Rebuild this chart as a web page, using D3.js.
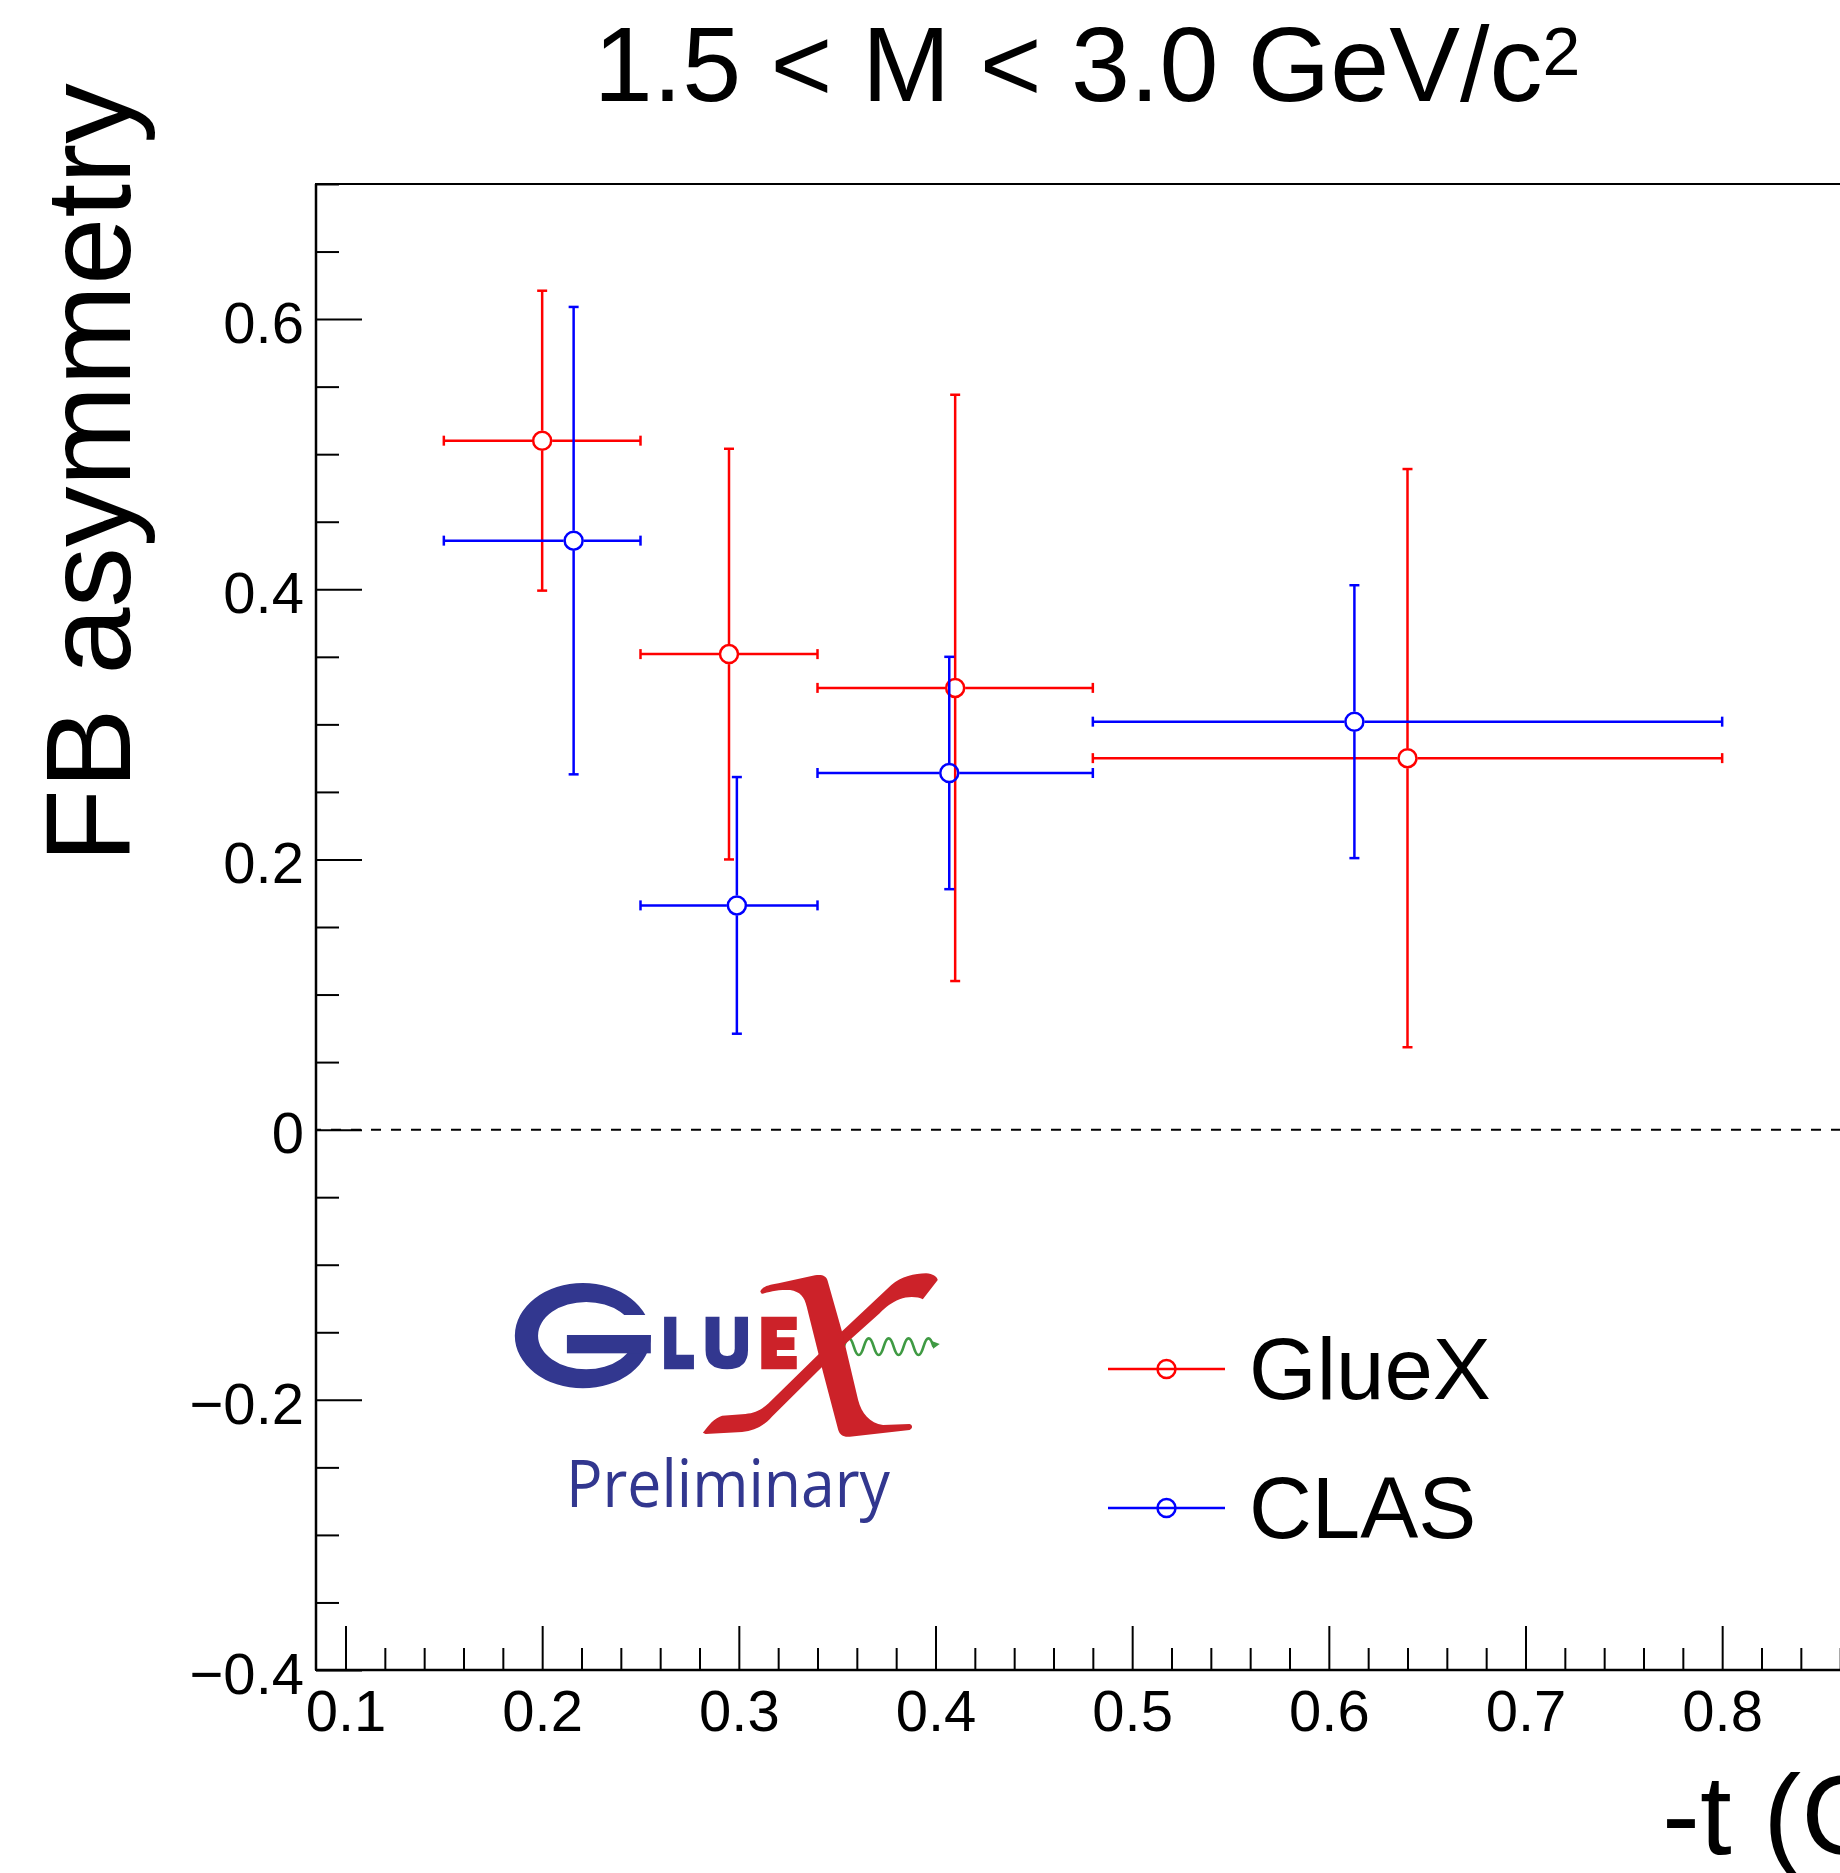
<!DOCTYPE html>
<html>
<head>
<meta charset="utf-8">
<script src="https://cdn.jsdelivr.net/npm/d3@7"></script>
<style>
  html, body { margin: 0; padding: 0; background: #fff; }
  svg { display: block; }
</style>
</head>
<body>
<svg id="chart"></svg>
<script>
// Forward-backward asymmetry vs -t, 1.5 < M < 3.0 GeV/c^2

// GlueX points: bin centre, bin edges, asymmetry, statistical error
const tGlueX    = [0.200, 0.295, 0.410, 0.640];
const tLoGlueX  = [0.15, 0.25, 0.34, 0.48];
const tHiGlueX  = [0.25, 0.34, 0.48, 0.80];
const fbGlueX   = [0.510, 0.352, 0.327, 0.275];
const errGlueX  = [0.111, 0.152, 0.217, 0.214];

// CLAS points
const tCLAS     = [0.216, 0.299, 0.407, 0.613];
const tLoCLAS   = [0.15, 0.25, 0.34, 0.48];
const tHiCLAS   = [0.25, 0.34, 0.48, 0.80];
const fbCLAS    = [0.436, 0.166, 0.264, 0.302];
const errCLAS   = [0.173, 0.095, 0.086, 0.101];

// Axis ticks
const xMajorTicks = [0.1, 0.2, 0.3, 0.4, 0.5, 0.6, 0.7, 0.8];
const yMajorTicks = [-0.4, -0.2, 0, 0.2, 0.4, 0.6];

const seriesNames = ["GlueX", "CLAS"];
const seriesColors = ["#ff0000", "#0000ff"];

const W = 1840, H = 1873;
const FONT = '"Liberation Sans", Arial, Helvetica, sans-serif';
const frame = { left: 316, top: 184, right: 1850, bottom: 1670 };

const svg = d3.select("#chart").attr("width", W).attr("height", H);
svg.append("rect").attr("width", W).attr("height", H).attr("fill", "#fff");

const x = d3.scaleLinear().domain([0.085, 0.865]).range([frame.left, frame.right]);
const y = d3.scaleLinear().domain([-0.4, 0.7]).range([frame.bottom, frame.top]);

// zero reference line
svg.append("line")
  .attr("x1", frame.left).attr("x2", frame.right)
  .attr("y1", y(0)).attr("y2", y(0))
  .attr("stroke", "#000").attr("stroke-width", 2)
  .attr("stroke-dasharray", "10,10").attr("stroke-dashoffset", 5);

// frame
svg.append("rect")
  .attr("x", frame.left).attr("y", frame.top)
  .attr("width", frame.right - frame.left).attr("height", frame.bottom - frame.top)
  .attr("fill", "none").attr("stroke", "#000").attr("stroke-width", 2);

// ---- axes ----
const xMinor = d3.range(0.1, 0.861, 0.02).filter(v => Math.abs(v * 10 - Math.round(v * 10)) > 1e-6);
const yMinor = d3.range(-0.4, 0.701, 0.05).filter(v => Math.abs(v * 5 - Math.round(v * 5)) > 1e-6);

function styleAxis(g) {
  g.select(".domain").remove();
  g.attr("font-family", FONT).attr("font-size", 58);
  g.selectAll("line").attr("stroke", "#000").attr("stroke-width", 2);
  g.selectAll("text").attr("fill", "#000");
}
const tickFmt = d => Math.abs(d) < 1e-9 ? "0" : d3.format(".1f")(d);

svg.append("g").attr("transform", `translate(0,${frame.bottom})`)
  .call(d3.axisBottom(x).tickValues(xMinor).tickSize(-22).tickFormat(""))
  .call(styleAxis);
svg.append("g").attr("transform", `translate(0,${frame.bottom})`)
  .call(d3.axisBottom(x).tickValues(xMajorTicks).tickSize(-44).tickPadding(20).tickFormat(tickFmt))
  .call(styleAxis);

svg.append("g").attr("transform", `translate(${frame.left},0)`)
  .call(d3.axisLeft(y).tickValues(yMinor).tickSize(-23).tickFormat(""))
  .call(styleAxis);
const yAx = svg.append("g").attr("transform", `translate(${frame.left},0)`)
  .call(d3.axisLeft(y).tickValues(yMajorTicks).tickSize(-46).tickPadding(12).tickFormat(tickFmt))
  .call(styleAxis);
yAx.selectAll("text").attr("dy", "0.40em");

// axis lines
svg.append("line").attr("x1", frame.left).attr("x2", frame.right)
  .attr("y1", frame.bottom).attr("y2", frame.bottom)
  .attr("stroke", "#000").attr("stroke-width", 2.5);
svg.append("line").attr("x1", frame.left).attr("x2", frame.left)
  .attr("y1", frame.top).attr("y2", frame.bottom)
  .attr("stroke", "#000").attr("stroke-width", 2.5);

// ---- data points with error bars ----
const R = 10, CAP = 5;
function drawSeries(t, lo, hi, v, e, color) {
  const pts = t.map((ti, i) => ({ t: ti, lo: lo[i], hi: hi[i], v: v[i], e: e[i] }));
  const g = svg.append("g").attr("stroke", color).attr("stroke-width", 2.5).attr("fill", "none");
  const segs = [];
  pts.forEach(p => {
    const cx = x(p.t), cy = y(p.v);
    const xl = x(p.lo), xh = x(p.hi), yt = y(p.v + p.e), yb = y(p.v - p.e);
    segs.push([xl, cy, cx - R, cy], [cx + R, cy, xh, cy]);
    segs.push([cx, yt, cx, cy - R], [cx, cy + R, cx, yb]);
    segs.push([xl, cy - CAP, xl, cy + CAP], [xh, cy - CAP, xh, cy + CAP]);
    segs.push([cx - CAP, yt, cx + CAP, yt], [cx - CAP, yb, cx + CAP, yb]);
  });
  g.selectAll("line").data(segs).join("line")
    .attr("x1", d => d[0]).attr("y1", d => d[1])
    .attr("x2", d => d[2]).attr("y2", d => d[3]);
  g.selectAll("circle").data(pts).join("circle")
    .attr("cx", d => x(d.t)).attr("cy", d => y(d.v)).attr("r", R - 1);
}
drawSeries(tGlueX, tLoGlueX, tHiGlueX, fbGlueX, errGlueX, seriesColors[0]);
drawSeries(tCLAS, tLoCLAS, tHiCLAS, fbCLAS, errCLAS, seriesColors[1]);

// ---- titles ----
const title = svg.append("text")
  .attr("x", 1087).attr("y", 101).attr("text-anchor", "middle")
  .attr("font-family", FONT).attr("font-size", 106).attr("fill", "#000");
title.append("tspan").text("1.5 < M < 3.0 GeV/c");
title.append("tspan").attr("font-size", 68).attr("dy", -26).text("2");

svg.append("text")
  .attr("transform", "translate(130,863) rotate(-90)")
  .attr("font-family", FONT).attr("font-size", 121).attr("fill", "#000")
  .text("FB asymmetry");

const xt = svg.append("text")
  .attr("x", 1662).attr("y", 1854)
  .attr("font-family", FONT).attr("font-size", 114).attr("fill", "#000");
xt.append("tspan").text("-t (GeV");
xt.append("tspan").attr("font-size", 72).attr("dy", -40).text("2");
xt.append("tspan").attr("dy", 40).text(")");

// ---- legend ----
const legendY = [1369, 1508];
const legend = svg.append("g");
seriesNames.forEach((name, i) => {
  const g = legend.append("g");
  g.append("line").attr("x1", 1108).attr("x2", 1225)
    .attr("y1", legendY[i]).attr("y2", legendY[i])
    .attr("stroke", seriesColors[i]).attr("stroke-width", 2.5);
  g.append("circle").attr("cx", 1166.5).attr("cy", legendY[i]).attr("r", R - 1)
    .attr("fill", "none").attr("stroke", seriesColors[i]).attr("stroke-width", 2.5);
  g.append("text").attr("x", 1249).attr("y", legendY[i] + 30)
    .attr("font-family", FONT).attr("font-size", 87).attr("fill", "#000")
    .text(name);
});

// ---- GlueX preliminary logo ----
const LOGO_BLUE = "#32378f", LOGO_RED = "#cc2229", LOGO_GREEN = "#3f9a43";
const logo = svg.append("g").attr("transform", "translate(480,1250) scale(0.3317,0.3333)");
const ell = (cx, cy, rx, ry) =>
  `M${cx - rx},${cy}A${rx},${ry} 0 1,0 ${cx + rx},${cy}A${rx},${ry} 0 1,0 ${cx - rx},${cy}Z`;

logo.append("clipPath").attr("id", "gOpening")
  .append("path").attr("clip-rule", "evenodd")
  .attr("d", "M0,0H700V700H0Z M405,195H540V255H405Z");
// G
logo.append("path")
  .attr("d", ell(310, 257, 205, 158) + ell(320, 257, 145, 101))
  .attr("fill-rule", "evenodd").attr("fill", LOGO_BLUE)
  .attr("clip-path", "url(#gOpening)");
logo.append("rect").attr("x", 262).attr("y", 255).attr("width", 253).attr("height", 55).attr("fill", LOGO_BLUE);
// L
logo.append("path").attr("fill", LOGO_BLUE)
  .attr("d", "M555,200H592V314H645V358H555Z");
// U
logo.append("path").attr("fill", LOGO_BLUE)
  .attr("d", "M680,200H722V296Q722,318 745,318Q768,318 768,296V200H808V300Q808,358 745,358Q680,358 680,300Z");
// E
logo.append("path").attr("fill", LOGO_RED)
  .attr("d", "M848,200H955V240H895V262H948V300H895V318H955V358H848Z");
// photon wave
let wave = "M1097,290";
for (let k = 0; k < 9; k++) {
  const x0 = 1097 + k * 30;
  wave += `Q${x0 + 15},${k % 2 ? 340 : 240} ${x0 + 30},290`;
}
logo.append("path").attr("d", wave).attr("fill", "none")
  .attr("stroke", LOGO_GREEN).attr("stroke-width", 8);
logo.append("path").attr("fill", LOGO_GREEN).attr("d", "M1360,272L1386,282L1366,296Z");
// X, thin stroke
logo.append("path").attr("fill", LOGO_RED)
  .attr("d", "M672,548C690,525 705,505 730,497L800,492C830,490 850,478 870,460L1090,245L1240,105" +
             "C1270,80 1310,70 1345,70C1365,72 1378,80 1380,90L1335,148C1320,140 1290,138 1265,148" +
             "C1240,158 1225,170 1205,190L1098,285L880,500C858,525 830,542 790,546L680,552Z");
// X, thick stroke
logo.append("path").attr("fill", LOGO_RED)
  .attr("d", "M845,125C850,110 870,105 900,100L1010,76C1030,72 1045,78 1048,92L1090,240L1140,450" +
             "C1150,490 1175,520 1215,525L1295,522C1305,525 1305,535 1295,540L1115,560" +
             "C1095,562 1085,555 1080,540L1035,370L985,170C978,140 965,125 935,120C900,118 870,125 850,132Z");

svg.append("text")
  .attr("x", 566).attr("y", 1507)
  .attr("font-family", "'Open Sans', Lato, sans-serif").attr("font-size", 66)
  .attr("textLength", 324).attr("lengthAdjust", "spacingAndGlyphs")
  .attr("fill", LOGO_BLUE)
  .text("Preliminary");
</script>
</body>
</html>
